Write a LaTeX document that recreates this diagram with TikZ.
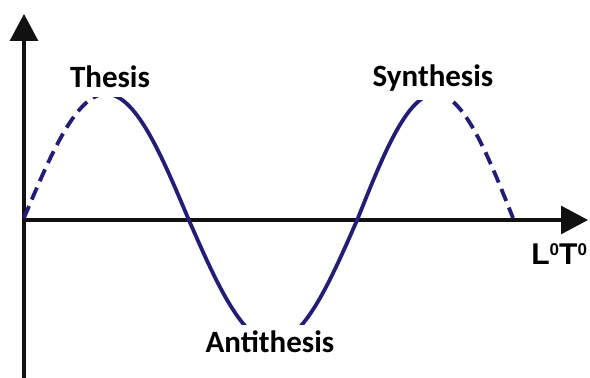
\documentclass[tikz,border=0pt]{standalone}
\usepackage{fontspec}
\setmainfont{Carlito}
\newfontfamily\axfont{Liberation Sans}
\usetikzlibrary{arrows.meta}
\definecolor{wavecol}{HTML}{221E78}
\definecolor{axcol}{HTML}{111111}
\newcommand{\supzero}{\raisebox{4.6pt}{\fontsize{8.5}{9}\selectfont 0}}
\tikzset{
  axis/.style={-{Triangle[length=13.5pt,width=14pt]}, draw=axcol, line width=1.6pt},
  wave/.style={draw=wavecol, line width=1.9pt},
  wavedash/.style={wave, dash pattern=on 6.5pt off 3.5pt},
  lbl/.style={font=\fontsize{15.5}{17}\selectfont\bfseries, fill=white, anchor=base, inner xsep=2pt, inner ysep=3pt, text height=11pt},
  axlbl/.style={font=\axfont\fontsize{15}{17}\selectfont\bfseries, anchor=base west, inner sep=0pt},
}

\begin{document}
\begin{tikzpicture}[x=0.5pt,y=-0.5pt]
  \useasboundingbox (0,0) rectangle (590,378);
  \coordinate (ybot) at (24,378);
  \coordinate (ytop) at (24,14);
  \coordinate (orig) at (24,220);
  \coordinate (xend) at (588,220);
  \draw[axis] (ybot) -- (ytop);
  \draw[axis] (orig) -- (xend);
  % the wave, three half periods
  \draw[wavedash] plot[domain=24:106, samples=40, smooth] (\x, {218-124*sin((\x-24)/164*180)});
  \draw[wave] plot[domain=106:188, samples=40, smooth] (\x, {218-124*sin((\x-24)/164*180)})
    -- plot[domain=188:358, samples=60, smooth] (\x, {218+124*sin((\x-188)/170*180)})
    -- plot[domain=358:435.5, samples=40, smooth] (\x, {218-124*sin((\x-358)/155*180)});
  \draw[wavedash] plot[domain=435.5:513, samples=40, smooth] (\x, {218-124*sin((\x-358)/155*180)});
  % labels
  \node[lbl, text depth=1.5pt] (thesis) at (110,88) {Thesis};
  \node[lbl, text depth=3.5pt] (synthesis) at (433,87) {Synthesis};
  \node[lbl, text depth=1.5pt] (antithesis) at (270,353) {Antithesis};
  \node[axlbl] (axlabel) at (531,265) {L\supzero T\supzero};
\end{tikzpicture}
\end{document}
